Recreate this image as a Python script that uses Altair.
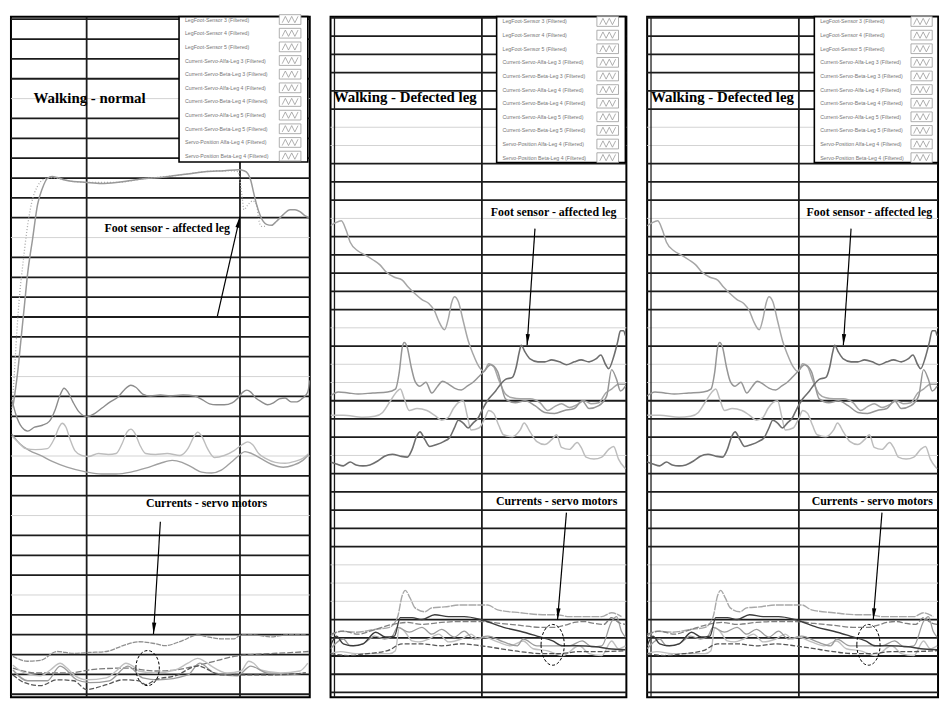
import math
import altair as alt
import pandas as pd

# ---------------- data (x = sample index, y = signal level) ----------------
# Panel 1: Walking - normal
P1_FOOT = [(2,298),(7,335),(10,365),(14,405),(17,435),(22,470),(27,505),(32,522),(37,532),(42,534),
           (47,533),(57,530),(77,528),(92,527),(107,528),(122,530),(137,532),(152,533),(167,535),(182,537),
           (197,539),(217,540),(232,541),(237,540),(241,537),(244,530),(247,517),(250,505),(254,493),(260,485),
           (265,484),(270,488),(277,495),(284,500),(289,500),(294,498),(299,494),(303,492)]
P1_FOOT_DOT = [(0,285),(3,325),(6,375),(9,415),(12,443),(16,477),(21,507),(27,524),(33,531),(42,533),
               (57,530),(77,528),(107,528),(137,532),(167,535),(197,539),(222,540),(231,539),(235,515),
               (237,500),(241,505),(246,509),(250,505),(252,490),(255,483),(260,483)]
P1_A = [(1,305),(5,290),(11,277),(17,273),(24,277),(32,279),(39,283),(45,295),(50,310),(54,317),(58,313),
        (63,303),(69,293),(77,288),(85,291),(93,297),(101,303),(109,308),(115,315),(122,320),(127,318),
        (134,311),(142,309),(152,310),(162,309),(175,310),(187,309),(195,305),(202,301),(209,300),(217,300),
        (225,302),(231,307),(236,313),(240,315),(244,313),(249,307),(255,303),(261,300),(267,302),(273,306),
        (279,307),(285,303),(291,303),(297,307),(302,313),(304,325)]
P1_B = [(1,268),(7,262),(15,255),(25,254),(37,255),(44,265),(49,277),(52,281),(56,277),(60,265),(65,253),
        (72,248),(79,247),(89,250),(99,249),(107,250),(113,260),(118,272),(122,275),(126,271),(131,259),
        (137,250),(147,249),(159,250),(172,248),(180,255),(186,267),(190,272),(194,268),(200,255),(207,246),
        (217,248),(227,253),(235,259),(241,262),(246,259),(252,250),(259,245),(269,241),(279,240),(289,242),
        (297,245),(303,250)]
P1_C = [(1,270),(9,260),(19,253),(30,248),(42,242),(57,236),(77,231),(92,229),(107,229),(122,231),(137,235),
        (152,240),(164,243),(174,241),(184,236),(194,231),(204,230),(214,233),(224,241),(232,248),(238,252),
        (245,250),(254,245),(265,239),(277,236),(287,238),(297,243),(303,249)]
P1_I1 = [(2,42),(17,37),(30,38),(47,47),(64,45),(80,46),(97,47),(114,53),(130,57),(147,55),(157,53),(174,58),
         (190,64),(200,62),(214,60),(227,60),(234,64),(247,64),(264,62),(280,64),(300,64)]
P1_I2 = [(2,30),(27,25),(57,25),(87,29),(117,30),(147,27),(167,28),(187,32),(207,37),(227,42),(247,44),
         (267,45),(287,46),(303,47)]
P1_L1 = [(2,33),(14,25),(30,22),(40,28),(50,35),(57,30),(64,23),(77,18),(97,20),(107,27),(117,35),(124,32),
         (130,27),(147,25),(167,28),(180,35),(190,40),(197,37),(204,32),(220,25),(234,27),(242,37),(247,35),
         (254,28),(274,25),(294,27),(302,35)]
P1_L2 = [(2,23),(14,15),(30,12),(47,18),(64,17),(77,8),(97,13),(114,18),(130,17),(137,13),(147,18),(167,22),
         (190,32),(214,23),(234,23),(264,23),(300,25)]
P1_L3 = [(2,28),(17,17),(37,17),(50,32),(67,18),(80,15),(100,17),(119,32),(134,20),(150,18),(180,23),(192,35),
         (207,25),(230,22),(244,32),(260,25),(280,23),(300,25)]

# Panels 2 and 3: Walking - Defected leg
P2_D = [(0,485),(5,488),(11,490),(16,480),(20,468),(28,459),(35,455),(43,450),(50,445),(56,438),(65,432),
        (73,429),(79,422),(86,415),(93,409),(100,405),(106,397),(110,387),(116,378),(120,390),(123,405),
        (126,412),(130,407),(135,387),(140,367),(145,353),(151,340),(156,335),(161,343),(166,340),(171,327),
        (178,312),(185,308),(193,307),(203,307),(213,303),(221,295),(228,299),(235,302),(243,298),(251,301),
        (258,305),(265,302),(273,303),(280,313),(286,317),(293,322),(300,322)]
P2_E = [(0,242),(6,240),(13,238),(20,242),(26,239),(33,238),(40,239),(48,243),(55,248),(63,250),(71,248),
        (78,247),(83,255),(87,267),(91,273),(96,265),(101,258),(108,260),(115,263),(121,267),(126,277),
        (130,285),(135,282),(140,277),(145,282),(150,287),(155,297),(161,307),(168,315),(173,322),(178,327),
        (185,329),(189,340),(192,355),(194,362),(198,355),(203,348),(211,345),(218,345),(225,347),(233,345),
        (240,342),(248,345),(255,347),(263,345),(270,348),(275,352),(280,342),(283,338),(288,350),(292,365),
        (295,377),(298,377),(300,372)]
P2_F = [(0,310),(8,314),(18,313),(28,312),(43,313),(58,314),(66,317),(70,335),(73,360),(75,365),(78,360),
        (82,340),(86,325),(91,320),(97,324),(103,313),(109,320),(114,325),(120,322),(126,318),(133,316),
        (139,320),(145,324),(151,330),(156,335),(163,342),(170,335),(178,307),(188,303),(198,305),(208,300),
        (218,293),(228,292),(238,295),(248,297),(256,305),(263,297),(273,300),(281,310),(286,337),(291,327),
        (295,315),(300,320)]
P2_G = [(0,290),(13,290),(33,288),(45,289),(53,293),(61,305),(68,315),(71,317),(75,307),(80,295),(88,297),
        (98,295),(106,290),(113,285),(120,288),(125,297),(130,303),(135,305),(139,290),(143,275),(151,277),
        (157,287),(161,295),(166,292),(171,280),(176,270),(185,268),(193,275),(197,282),(203,273),(210,263),
        (218,260),(225,265),(230,270),(235,257),(243,255),(251,262),(255,257),(260,247),(268,245),(276,247),
        (283,255),(288,258),(293,245),(300,235)]
P2_J1 = [(0,63),(10,68),(26,67),(46,70),(60,72),(68,82),(73,105),(76,110),(81,102),(86,92),(96,88),(103,92),
         (116,93),(133,95),(150,95),(160,95),(170,90),(193,87),(216,85),(230,85),(243,83),(260,83),(276,83),
         (286,87),(296,83)]
P2_J2 = [(0,53),(6,63),(13,55),(23,53),(33,55),(46,67),(56,62),(65,63),(71,82),(83,82),(93,80),(106,85),
         (120,83),(136,83),(153,80),(176,72),(193,68),(210,63),(226,58),(236,53),(250,53),(270,52),(283,50),
         (300,49)]
P2_J3 = [(0,65),(13,68),(28,65),(46,70),(63,75),(78,77),(93,75),(113,77),(133,78),(153,78),(173,76),(193,74),
         (213,72),(228,72),(238,74),(248,77),(258,78),(268,76),(278,75),(286,82),(293,77),(300,75)]
P2_J4 = [(0,45),(10,47),(26,45),(43,45),(60,45),(66,48),(70,72),(76,67),(83,58),(90,57),(100,60),(110,65),
         (120,57),(133,60),(143,65),(150,60),(156,62),(170,57),(183,53),(196,58),(206,50),(220,48),(236,43),
         (253,53),(263,45),(276,43),(286,58),(293,50),(300,53)]
P2_J5 = [(0,50),(13,60),(20,53),(33,55),(45,63),(55,60),(63,63),(68,72),(80,67),(93,72),(103,65),(113,70),
         (126,62),(136,68),(146,60),(160,63),(176,57),(190,53),(196,60),(210,53),(230,53),(243,53),(256,58),
         (266,52),(276,53),(286,78),(291,83),(296,68),(300,62)]
P2_J6 = [(0,45),(18,43),(38,45),(58,48),(73,55),(93,55),(113,53),(133,55),(153,53),(173,50),(193,47),(213,45),
         (233,45),(253,47),(273,47),(300,48)]

LEGEND_LABELS = ["LegFoot-Sensor 3 (Filtered)", "LegFoot-Sensor 4 (Filtered)", "LegFoot-Sensor 5 (Filtered)",
                 "Current-Servo-Alfa-Leg 3 (Filtered)", "Current-Servo-Beta-Leg 3 (Filtered)",
                 "Current-Servo-Alfa-Leg 4 (Filtered)", "Current-Servo-Beta-Leg 4 (Filtered)",
                 "Current-Servo-Alfa-Leg 5 (Filtered)", "Current-Servo-Beta-Leg 5 (Filtered)",
                 "Servo-Position Alfa-Leg 4 (Filtered)", "Servo-Position Beta-Leg 4 (Filtered)"]

TITLE_1 = "Walking - normal"
TITLE_2 = "Walking - Defected leg"
LABEL_FOOT = "Foot sensor - affected leg"
LABEL_CURR = "Currents - servo motors"

# grid description: (count, top value, step, light indices)
P1_GRID = (35, 695.4, 20.36, [4, 11, 18, 22, 25, 29])
P2_GRID = (38, 698.75, 18.75, [6, 7, 11, 17, 19, 20, 24, 30, 31, 32])

H = 688
WIDTHS = [302, 299, 294]

ARROW_HEAD = "M 0 0 L 0.45 2.4 L -0.45 2.4 Z"
ZIGZAG = "M -1 0.4 L -0.6 -0.4 L -0.2 0.4 L 0.2 -0.4 L 0.6 0.4 L 1 -0.4"


def df_of(points):
    d = pd.DataFrame(points, columns=["x", "y"])
    d["i"] = range(len(d))
    return d


def make_panel(series, grid, vgrid, double_left, xdom, ydom, width, titles, labels,
               arrows, ellipse, legend):
    xs = alt.Scale(domain=xdom, nice=False, zero=False)
    ys = alt.Scale(domain=ydom, nice=False, zero=False)
    X = alt.X("x:Q", scale=xs, axis=None)
    Y = alt.Y("y:Q", scale=ys, axis=None)
    layers = []
    n, top, step, light = grid
    gdf = pd.DataFrame({"y": [top - step * k for k in range(n)],
                        "light": [k in light for k in range(n)]})
    layers.append(alt.Chart(gdf[gdf.light].reset_index(drop=True))
                  .mark_rule(color="#d2d2d2", strokeWidth=1).encode(y=Y))
    layers.append(alt.Chart(gdf[~gdf.light].reset_index(drop=True))
                  .mark_rule(color="#1c1c1c", strokeWidth=1.8).encode(y=Y))
    layers.append(alt.Chart(pd.DataFrame({"x": vgrid}))
                  .mark_rule(color="#1c1c1c", strokeWidth=1.8).encode(x=X))
    if double_left:
        layers.append(alt.Chart(pd.DataFrame({"x": [4]}))
                      .mark_rule(color="#1c1c1c", strokeWidth=1.3).encode(x=X))
    for pts, color, w, dash in series:
        kw = dict(color=color, strokeWidth=w, clip=True, interpolate="monotone")
        if dash:
            kw["strokeDash"] = dash
        layers.append(alt.Chart(df_of(pts)).mark_line(**kw)
                      .encode(x=X, y=Y, order="i:Q"))
    # ellipse highlight around the currents
    ex, ey, ry_px, ratio = ellipse
    shape = f"M {-ratio} 0 A {ratio} 1 0 1 1 {ratio} 0 A {ratio} 1 0 1 1 {-ratio} 0"
    layers.append(alt.Chart(pd.DataFrame({"x": [ex], "y": [ey]}))
                  .mark_point(shape=shape, filled=False, color="black", strokeWidth=1,
                              strokeDash=[3, 2], size=(2 * ry_px) ** 2, opacity=1)
                  .encode(x=X, y=Y))
    # arrows
    sx = width / (xdom[1] - xdom[0])
    sy = H / (ydom[1] - ydom[0])
    rows = []
    for (x1, y1, x2, y2) in arrows:
        ang = math.degrees(math.atan2((x2 - x1) * sx, (y2 - y1) * sy))
        if ang < 0:
            ang += 360
        rows.append({"x": x1, "y": y1, "x2": x2, "y2": y2, "a": ang})
    adf = pd.DataFrame(rows)
    layers.append(alt.Chart(adf).mark_rule(color="black", strokeWidth=1.2)
                  .encode(x=X, y=Y, x2="x2:Q", y2="y2:Q"))
    layers.append(alt.Chart(adf).mark_point(shape=ARROW_HEAD, filled=True, color="black",
                                            size=90, opacity=1)
                  .encode(x=alt.X("x2:Q", scale=xs, axis=None),
                          y=alt.Y("y2:Q", scale=ys, axis=None),
                          angle=alt.Angle("a:Q", scale=None)))
    # legend box
    lx0, lx1, ly0, ly1, tx, sw0, sw1 = legend
    layers.append(alt.Chart(pd.DataFrame({"x": [lx0], "x2": [lx1], "y": [ly0], "y2": [ly1]}))
                  .mark_rect(fill="white", stroke="black", strokeWidth=1.6)
                  .encode(x=X, x2="x2:Q", y=Y, y2="y2:Q"))
    ldf = pd.DataFrame({"t": LEGEND_LABELS,
                        "y": [695 - 14 * i for i in range(len(LEGEND_LABELS))]})
    ldf["x"] = tx
    ldf["sx0"] = sw0
    ldf["sx1"] = sw1
    ldf["sxc"] = (sw0 + sw1) / 2
    ldf["y0"] = ldf["y"] - 5
    ldf["y1"] = ldf["y"] + 5
    layers.append(alt.Chart(ldf).mark_text(align="left", baseline="middle", font="Liberation Sans",
                                           fontSize=5.3, color="#777777")
                  .encode(x=X, y=Y, text="t:N"))
    layers.append(alt.Chart(ldf).mark_rect(fill="white", stroke="#9a9a9a", strokeWidth=0.8)
                  .encode(x=alt.X("sx0:Q", scale=xs, axis=None), x2="sx1:Q",
                          y=alt.Y("y0:Q", scale=ys, axis=None), y2="y1:Q"))
    layers.append(alt.Chart(ldf).mark_point(shape=ZIGZAG, filled=False, color="#999999",
                                            strokeWidth=0.8, size=256, opacity=1)
                  .encode(x=alt.X("sxc:Q", scale=xs, axis=None), y=Y))
    # texts
    layers.append(alt.Chart(pd.DataFrame(titles, columns=["x", "y", "t"]))
                  .mark_text(font="Liberation Serif", fontSize=15, fontWeight="bold", color="black")
                  .encode(x=X, y=Y, text="t:N"))
    layers.append(alt.Chart(pd.DataFrame(labels, columns=["x", "y", "t"]))
                  .mark_text(font="Liberation Serif", fontSize=12, fontWeight="bold", color="black")
                  .encode(x=X, y=Y, text="t:N"))
    return alt.layer(*layers).properties(width=width, height=H)


P1_SERIES = [
    (P1_C, "#a0a0a0", 1.4, None),
    (P1_B, "#bdbdbd", 1.4, None),
    (P1_A, "#8c8c8c", 1.4, None),
    (P1_FOOT_DOT, "#a8a8a8", 1.3, [1, 2]),
    (P1_FOOT, "#999999", 1.5, None),
    (P1_I1, "#8f8f8f", 1.3, [5, 1]),
    (P1_I2, "#7a7a7a", 1.3, [6, 2]),
    (P1_L1, "#c0c0c0", 1.4, None),
    (P1_L3, "#9a9a9a", 1.3, None),
    (P1_L2, "#555555", 1.3, [5, 2]),
]
P2_SERIES = [
    (P2_G, "#bdbdbd", 1.5, None),
    (P2_D, "#a6a6a6", 1.5, None),
    (P2_F, "#969696", 1.5, None),
    (P2_E, "#6e6e6e", 1.6, None),
    (P2_J1, "#a8a8a8", 1.4, [8, 1]),
    (P2_J4, "#c0c0c0", 1.4, None),
    (P2_J5, "#9c9c9c", 1.3, None),
    (P2_J3, "#808080", 1.3, [6, 2]),
    (P2_J6, "#555555", 1.3, [5, 2]),
    (P2_J2, "#3c3c3c", 1.4, None),
]

p1 = make_panel(
    P1_SERIES, P1_GRID, [77, 233], False, [0, 304], [0, 698], WIDTHS[0],
    titles=[(80, 615, TITLE_1)],
    labels=[(159, 481, LABEL_FOOT), (199, 199, LABEL_CURR)],
    arrows=[(210, 391, 233, 493), (152, 180, 145, 65)],
    ellipse=(139, 30, 17.7, 0.67),
    legend=(171, 302, 549, 698, 177, 273, 295),
)
p2 = make_panel(
    P2_SERIES, P2_GRID, [154], True, [0, 301], [0, 700], WIDTHS[1],
    titles=[(76, 617, TITLE_2)],
    labels=[(227, 499, LABEL_FOOT), (230, 202, LABEL_CURR)],
    arrows=[(208, 482, 200, 362), (240, 190, 231, 80)],
    ellipse=(226, 54, 20.6, 0.57),
    legend=(169, 300, 550, 700, 175, 271, 293),
)
p3 = make_panel(
    P2_SERIES, P2_GRID, [157], True, [0, 301], [0, 700], WIDTHS[2],
    titles=[(78, 617, TITLE_2)],
    labels=[(230, 499, LABEL_FOOT), (233, 202, LABEL_CURR)],
    arrows=[(211, 482, 203, 362), (243, 190, 234, 80)],
    ellipse=(229, 54, 20.6, 0.57),
    legend=(173, 301, 550, 700, 179, 273, 295),
)

chart = (alt.hconcat(p1, p2, p3, spacing=17)
         .properties(padding={"left": 1, "top": 1, "right": 1, "bottom": 1}, background="white")
         .configure_view(stroke="black", strokeWidth=2))

chart.save("out.html", embed_options={"renderer": "svg", "actions": False})
